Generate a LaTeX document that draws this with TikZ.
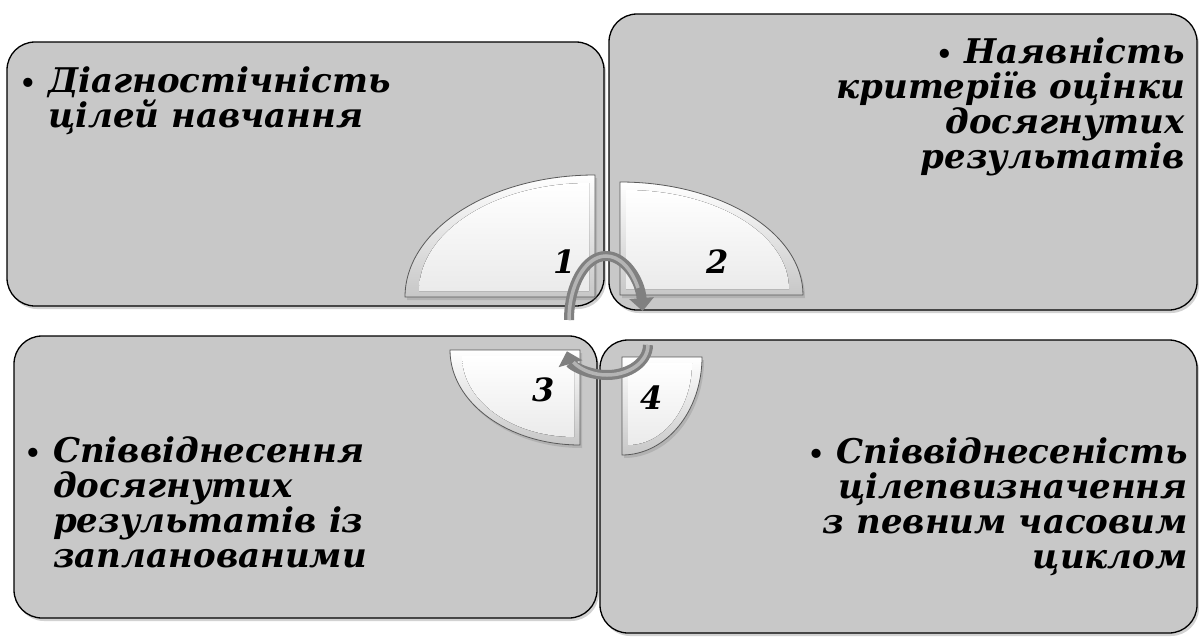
\documentclass[tikz,border=0pt]{standalone}
\usepackage{fontspec}
\setmainfont{DejaVu Serif}
\usetikzlibrary{arrows.meta,shadows}
\definecolor{boxfill}{RGB}{200,200,200}
\definecolor{arrowdark}{RGB}{128,128,128}
\definecolor{arrowlight}{RGB}{180,180,180}
\newcommand{\bul}{{\fontsize{26}{26}\selectfont\upshape•}}
\tikzset{
  panel/.style={draw=black, line width=1.3pt, fill=boxfill, rounded corners=28pt,
    drop shadow={opacity=0.35, shadow xshift=2pt, shadow yshift=-3pt}},
  pieceout/.style={draw=black!65, line width=0.8pt, top color=white, bottom color=black!22,
    drop shadow={opacity=0.3, shadow xshift=2pt, shadow yshift=-3pt}},
  piecein/.style={draw=none, top color=white, bottom color=black!8},
  boxtext/.style={inner sep=0pt, font=\fontsize{34}{35}\selectfont\bfseries\itshape},
  numtext/.style={inner sep=0pt, font=\fontsize{32}{34}\selectfont\bfseries\itshape},
  cyclearrow/.style={line width=10pt, draw=arrowdark, -{Triangle[width=24pt,length=13pt]}},
  cyclehi/.style={line width=3.5pt, draw=arrowlight},
}
\begin{document}
\begin{tikzpicture}[x=1pt,y=-1pt]
\useasboundingbox (0,0) rectangle (1199,637);
\fill[white] (0,0) rectangle (1199,637);
% panels
\draw[panel] (7,42) rectangle (604,306);
\draw[panel] (609,14) rectangle (1197,310);
\draw[panel] (14,336) rectangle (597,618);
\draw[panel] (600,340) rectangle (1197,633);
% texts (base anchor = baseline of the last line)
\node[boxtext, anchor=base west, align=left] (t1) at (48,127)
  {\llap{\bul\ }Діагностічність\\цілей навчання};
\node[boxtext, anchor=base east, align=right] (t2) at (1185,168)
  {\bul\ Наявність\\критеріїв оцінки\\досягнутих\\результатів};
\node[boxtext, anchor=base west, align=left] (t3) at (53,567)
  {\llap{\bul\ }Співвіднесення\\досягнутих\\результатів із\\запланованими};
\node[boxtext, anchor=base east, align=right] (t4) at (1188,568)
  {\bul\ Співвіднесеність\\цілепвизначення\\з певним часовим\\циклом};
% pie pieces
\draw[pieceout] (595,297) -- (405,297) arc[start angle=180,end angle=270,x radius=190,y radius=122] -- cycle;
\fill[piecein] (589,291) -- (419,291) arc[start angle=180,end angle=270,x radius=170,y radius=108] -- cycle;
\draw[pieceout] (620,295) -- (620,182) arc[start angle=270,end angle=360,x radius=183,y radius=113] -- cycle;
\fill[piecein] (626,289) -- (626,190) arc[start angle=270,end angle=360,x radius=163,y radius=99] -- cycle;
\draw[pieceout] (580,350) -- (450,350) arc[start angle=180,end angle=90,x radius=130,y radius=95] -- cycle;
\fill[piecein] (574,356) -- (462,356) arc[start angle=180,end angle=90,x radius=112,y radius=81] -- cycle;
\draw[pieceout] (622,357) -- (702,357) arc[start angle=0,end angle=90,x radius=80,y radius=98] -- cycle;
\fill[piecein] (628,363) -- (692,363) arc[start angle=0,end angle=90,x radius=64,y radius=82] -- cycle;
% numbers
\node[numtext] (n1) at (565,262) {1};
\node[numtext] (n2) at (718,262) {2};
\node[numtext] (n3) at (544,390) {3};
\node[numtext] (n4) at (652,398) {4};
% cycle arrows
\coordinate (a1s) at (569,320);
\coordinate (b1s) at (648,345);
\draw[cyclearrow] (a1s) arc[start angle=180,end angle=352,x radius=37,y radius=64];
\draw[cyclehi] (a1s) arc[start angle=180,end angle=330,x radius=37,y radius=64];
\draw[cyclearrow] (b1s) arc[start angle=0,end angle=168,x radius=41,y radius=30];
\draw[cyclehi] (b1s) arc[start angle=0,end angle=145,x radius=41,y radius=30];
\end{tikzpicture}
\end{document}
